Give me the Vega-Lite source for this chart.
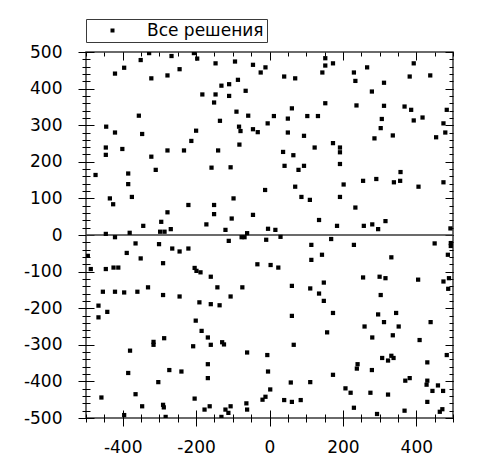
{
  "$schema": "https://vega.github.io/schema/vega-lite/v6.json",
  "width": 367,
  "height": 366,
  "autosize": {"type": "none"},
  "padding": {"left": 86, "top": 52, "right": 32, "bottom": 52},
  "background": "white",
  "config": {
    "view": {"stroke": "#3a3a3a", "strokeWidth": 1.5},
    "axis": {"domain": false, "grid": false, "title": null, "tickColor": "#000", "tickWidth": 1, "labelFont": "DejaVu Sans", "labelFontSize": 17, "labelColor": "#000"}
  },
  "data": {"values": [
    {"x":-328,"y":497},{"x":-267,"y":489},{"x":-206,"y":497},{"x":-197,"y":482},{"x":-351,"y":478},{"x":-396,"y":457},{"x":-421,"y":441},{"x":-147,"y":469},{"x":-94,"y":474},{"x":-45,"y":465},{"x":-11,"y":458},{"x":-24,"y":444},{"x":-245,"y":453},{"x":-278,"y":436},{"x":-322,"y":428},{"x":-131,"y":408},{"x":-110,"y":412},{"x":-86,"y":424},{"x":-65,"y":394},{"x":-110,"y":380},{"x":-147,"y":384},{"x":-183,"y":384},{"x":-151,"y":362},{"x":-90,"y":337},{"x":-58,"y":326},{"x":-5,"y":305},{"x":-135,"y":312},{"x":-356,"y":326},{"x":-445,"y":296},{"x":-421,"y":280},{"x":-347,"y":276},{"x":-200,"y":285},{"x":-213,"y":257},{"x":-83,"y":296},{"x":-79,"y":284},{"x":-45,"y":289},{"x":-32,"y":281},{"x":-82,"y":247},{"x":-446,"y":239},{"x":-446,"y":219},{"x":-401,"y":235},{"x":-278,"y":231},{"x":-233,"y":231},{"x":-140,"y":231},{"x":-322,"y":214},{"x":-158,"y":184},{"x":-106,"y":185},{"x":-310,"y":178},{"x":-474,"y":164},{"x":-385,"y":168},{"x":-385,"y":139},{"x":-12,"y":123},{"x":-435,"y":100},{"x":-375,"y":104},{"x":-426,"y":84},{"x":-221,"y":82},{"x":-151,"y":82},{"x":-98,"y":100},{"x":-278,"y":62},{"x":-151,"y":57},{"x":-45,"y":55},{"x":-103,"y":45},{"x":-295,"y":36},{"x":-344,"y":25},{"x":-269,"y":16},{"x":-172,"y":29},{"x":-120,"y":14},{"x":-298,"y":9},{"x":-286,"y":9},{"x":-446,"y":3},{"x":-381,"y":6},{"x":-61,"y":5},
    {"x":152,"y":483},{"x":152,"y":463},{"x":173,"y":469},{"x":144,"y":444},{"x":266,"y":458},{"x":230,"y":444},{"x":234,"y":421},{"x":312,"y":416},{"x":279,"y":392},{"x":393,"y":469},{"x":438,"y":436},{"x":382,"y":433},{"x":40,"y":433},{"x":70,"y":428},{"x":152,"y":360},{"x":237,"y":354},{"x":312,"y":353},{"x":61,"y":346},{"x":368,"y":351},{"x":386,"y":342},{"x":483,"y":342},{"x":12,"y":325},{"x":50,"y":318},{"x":103,"y":325},{"x":132,"y":325},{"x":306,"y":317},{"x":393,"y":313},{"x":417,"y":321},{"x":474,"y":305},{"x":303,"y":292},{"x":50,"y":280},{"x":94,"y":271},{"x":286,"y":264},{"x":336,"y":272},{"x":479,"y":280},{"x":454,"y":267},{"x":173,"y":251},{"x":123,"y":239},{"x":192,"y":239},{"x":192,"y":226},{"x":37,"y":227},{"x":65,"y":218},{"x":41,"y":189},{"x":94,"y":189},{"x":79,"y":178},{"x":192,"y":194},{"x":357,"y":172},{"x":356,"y":148},{"x":339,"y":144},{"x":291,"y":153},{"x":255,"y":148},{"x":202,"y":138},{"x":70,"y":132},{"x":406,"y":132},{"x":474,"y":144},{"x":87,"y":104},{"x":110,"y":96},{"x":192,"y":104},{"x":234,"y":75},{"x":135,"y":41},{"x":184,"y":25},{"x":257,"y":25},{"x":280,"y":29},{"x":296,"y":16},{"x":316,"y":38},{"x":-4,"y":17},{"x":16,"y":14},{"x":493,"y":18},
    {"x":-421,"y":-6},{"x":-365,"y":-23},{"x":-389,"y":-49},{"x":-351,"y":-64},{"x":-495,"y":-57},{"x":-301,"y":-25},{"x":-265,"y":-37},{"x":-245,"y":-45},{"x":-221,"y":-37},{"x":-290,"y":-77},{"x":-487,"y":-93},{"x":-446,"y":-93},{"x":-425,"y":-89},{"x":-412,"y":-89},{"x":-204,"y":-90},{"x":-199,"y":-98},{"x":-188,"y":-102},{"x":-160,"y":-114},{"x":-111,"y":-16},{"x":-76,"y":-6},{"x":-68,"y":-6},{"x":-9,"y":-13},{"x":-33,"y":-80},{"x":-454,"y":-155},{"x":-421,"y":-155},{"x":-396,"y":-157},{"x":-360,"y":-155},{"x":-331,"y":-143},{"x":-290,"y":-164},{"x":-245,"y":-168},{"x":-142,"y":-143},{"x":-106,"y":-168},{"x":-74,"y":-143},{"x":-466,"y":-193},{"x":-442,"y":-210},{"x":-466,"y":-225},{"x":-191,"y":-184},{"x":-160,"y":-189},{"x":-136,"y":-192},{"x":-201,"y":-234},{"x":-185,"y":-262},{"x":-168,"y":-280},{"x":-160,"y":-300},{"x":-129,"y":-293},{"x":-124,"y":-299},{"x":-208,"y":-304},{"x":-287,"y":-282},{"x":-316,"y":-292},{"x":-316,"y":-300},{"x":-380,"y":-316},{"x":-61,"y":-321},{"x":-6,"y":-328},{"x":-385,"y":-377},{"x":-273,"y":-369},{"x":-240,"y":-373},{"x":-168,"y":-353},{"x":-168,"y":-391},{"x":-303,"y":-402},{"x":-4,"y":-373},{"x":-458,"y":-444},{"x":-365,"y":-435},{"x":-204,"y":-447},{"x":2,"y":-422},{"x":-11,"y":-442},{"x":-19,"y":-450},{"x":-347,"y":-468},{"x":-290,"y":-464},{"x":-288,"y":-471},{"x":-396,"y":-492},{"x":-283,"y":-497},{"x":-177,"y":-477},{"x":-163,"y":-468},{"x":-120,"y":-477},{"x":-112,"y":-486},{"x":-106,"y":-468},{"x":-131,"y":-497},{"x":-63,"y":-460},{"x":-61,"y":-477},
    {"x":30,"y":-5},{"x":168,"y":-11},{"x":114,"y":-27},{"x":230,"y":-27},{"x":450,"y":-23},{"x":494,"y":-22},{"x":494,"y":-30},{"x":143,"y":-54},{"x":114,"y":-68},{"x":332,"y":-61},{"x":486,"y":-54},{"x":3,"y":-82},{"x":24,"y":-89},{"x":255,"y":-116},{"x":300,"y":-114},{"x":316,"y":-118},{"x":405,"y":-122},{"x":489,"y":-118},{"x":474,"y":-127},{"x":487,"y":-147},{"x":61,"y":-139},{"x":111,"y":-146},{"x":148,"y":-130},{"x":135,"y":-160},{"x":148,"y":-180},{"x":303,"y":-164},{"x":173,"y":-213},{"x":61,"y":-221},{"x":296,"y":-217},{"x":345,"y":-213},{"x":312,"y":-238},{"x":259,"y":-250},{"x":352,"y":-250},{"x":439,"y":-238},{"x":157,"y":-266},{"x":280,"y":-280},{"x":336,"y":-274},{"x":409,"y":-287},{"x":66,"y":-300},{"x":307,"y":-336},{"x":323,"y":-343},{"x":332,"y":-330},{"x":338,"y":-336},{"x":483,"y":-328},{"x":240,"y":-353},{"x":238,"y":-365},{"x":279,"y":-369},{"x":173,"y":-382},{"x":430,"y":-348},{"x":58,"y":-403},{"x":111,"y":-402},{"x":370,"y":-398},{"x":382,"y":-391},{"x":430,"y":-398},{"x":428,"y":-409},{"x":444,"y":-426},{"x":459,"y":-411},{"x":473,"y":-426},{"x":207,"y":-419},{"x":221,"y":-431},{"x":275,"y":-431},{"x":323,"y":-436},{"x":40,"y":-451},{"x":61,"y":-456},{"x":85,"y":-451},{"x":230,"y":-472},{"x":293,"y":-489},{"x":368,"y":-480},{"x":430,"y":-456},{"x":464,"y":-483},{"x":471,"y":-476}
  ]},
  "layer": [
    {
      "mark": {"type": "rule", "color": "#3a3a3a", "strokeWidth": 1.5},
      "data": {"values": [{"z": 0}]},
      "encoding": {"y": {"field": "z", "type": "quantitative", "axis": null, "scale": {"domain": [-500, 500], "nice": false, "zero": false}}}
    },
    {
      "mark": {"type": "point", "shape": "square", "filled": true, "size": 18, "opacity": 1, "clip": true, "color": "#000"},
      "encoding": {
        "x": {"field": "x", "type": "quantitative", "scale": {"domain": [-500, 500], "nice": false, "zero": false},
              "axis": {"orient": "bottom", "values": [-400, -200, 0, 200, 400], "tickSize": 16, "offset": -8, "tickColor": "#000", "labelPadding": 13, "labelFlush": false, "labelExpr": "replace(datum.label, '\u2212', '-')"}},
        "y": {"field": "y", "type": "quantitative", "scale": {"domain": [-500, 500], "nice": false, "zero": false},
              "axis": {"orient": "left", "values": [-500, -400, -300, -200, -100, 0, 100, 200, 300, 400, 500], "tickSize": 16, "offset": -8, "tickColor": "#000", "labelPadding": 16, "labelFlush": false, "labelExpr": "replace(datum.label, '\u2212', '-')"}},
        "shape": {"datum": "Все решения", "type": "nominal", "scale": {"range": ["square"]},
                  "legend": {"orient": "none", "legendX": 0, "legendY": -33, "title": null, "strokeColor": "#3a3a3a", "fillColor": "white", "padding": 3, "symbolType": "square", "symbolSize": 16, "symbolFillColor": "#000", "symbolStrokeColor": "#000", "symbolStrokeWidth": 0, "symbolOffset": 15, "labelOffset": 26, "labelFont": "DejaVu Sans", "labelFontSize": 17, "labelColor": "#000"}}
      }
    },
    {
      "mark": {"type": "point", "opacity": 0},
      "encoding": {
        "x": {"field": "x", "type": "quantitative", "axis": {"orient": "bottom", "values": [-500,-450,-400,-350,-300,-250,-200,-150,-100,-50,0,50,100,150,200,250,300,350,400,450,500], "tickSize": 8, "offset": -4, "tickColor": "#000", "labels": false}},
        "y": {"field": "y", "type": "quantitative", "axis": {"orient": "left", "values": [-500,-480,-460,-440,-420,-400,-380,-360,-340,-320,-300,-280,-260,-240,-220,-200,-180,-160,-140,-120,-100,-80,-60,-40,-20,0,20,40,60,80,100,120,140,160,180,200,220,240,260,280,300,320,340,360,380,400,420,440,460,480,500], "tickSize": 8, "offset": -4, "tickColor": "#000", "labels": false}}
      }
    },
    {
      "mark": {"type": "point", "opacity": 0},
      "encoding": {
        "x": {"field": "x", "type": "quantitative", "axis": {"orient": "top", "values": [-400, -200, 0, 200, 400], "tickSize": -8, "tickColor": "#000", "labels": false}},
        "y": {"field": "y", "type": "quantitative", "axis": {"orient": "right", "values": [-500, -400, -300, -200, -100, 0, 100, 200, 300, 400, 500], "tickSize": -8, "tickColor": "#000", "labels": false}}
      }
    },
    {
      "mark": {"type": "point", "opacity": 0},
      "encoding": {
        "x": {"field": "x", "type": "quantitative", "axis": {"orient": "top", "values": [-500,-450,-400,-350,-300,-250,-200,-150,-100,-50,0,50,100,150,200,250,300,350,400,450,500], "tickSize": -4, "tickColor": "#000", "labels": false}},
        "y": {"field": "y", "type": "quantitative", "axis": {"orient": "right", "values": [-500,-480,-460,-440,-420,-400,-380,-360,-340,-320,-300,-280,-260,-240,-220,-200,-180,-160,-140,-120,-100,-80,-60,-40,-20,0,20,40,60,80,100,120,140,160,180,200,220,240,260,280,300,320,340,360,380,400,420,440,460,480,500], "tickSize": -4, "tickColor": "#000", "labels": false}}
      }
    }
  ],
  "resolve": {"scale": {"x": "shared", "y": "shared"}, "axis": {"x": "independent", "y": "independent"}}
}
